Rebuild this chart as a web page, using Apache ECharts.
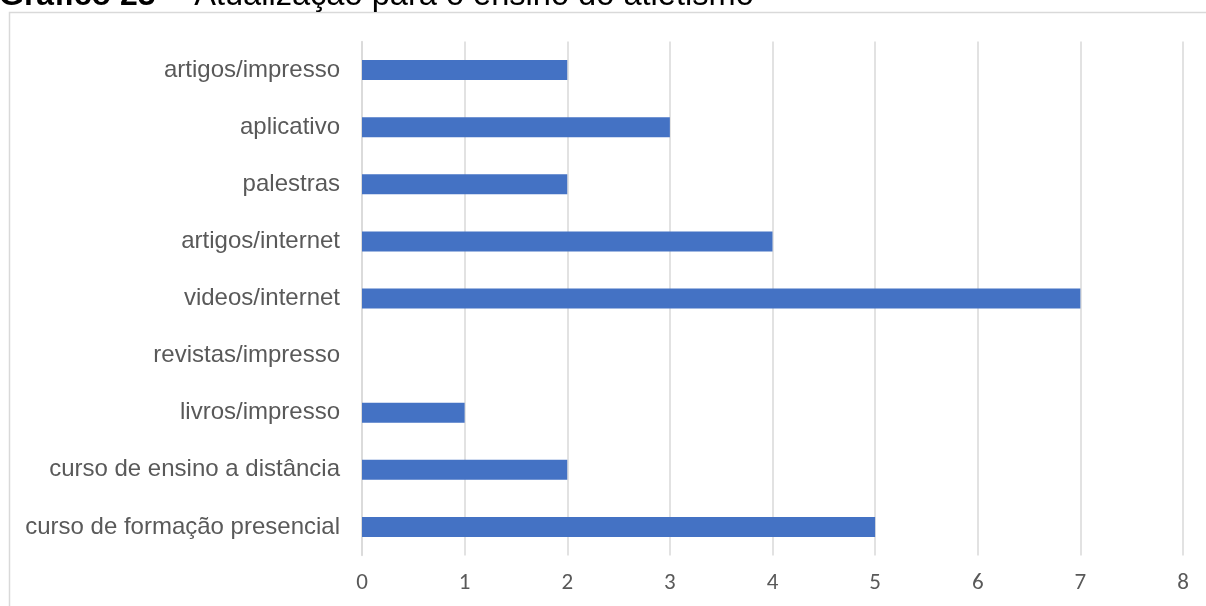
<!DOCTYPE html>
<html>
<head>
<meta charset="utf-8">
<script src="https://cdn.jsdelivr.net/npm/echarts@6/dist/echarts.min.js"></script>
<style>
  html, body { margin: 0; padding: 0; background: #ffffff; }
  #chart { width: 1206px; height: 606px; }
</style>
</head>
<body>
<div id="chart"></div>
<script>
// Categories listed bottom to top (ECharts category y axis starts at the bottom)
const categories = [
  'curso de formação presencial',
  'curso de ensino a distância',
  'livros/impresso',
  'revistas/impresso',
  'videos/internet',
  'artigos/internet',
  'palestras',
  'aplicativo',
  'artigos/impresso'
];
const counts = [5, 2, 1, 0, 7, 4, 2, 3, 2];
const xTicks = [0, 1, 2, 3, 4, 5, 6, 7, 8];

const titleBold = 'Gráfico 23';
const titleRest = '– Atualização para o ensino do atletismo';

const chart = echarts.init(document.getElementById('chart'), null, { renderer: 'canvas' });

chart.setOption({
  backgroundColor: '#ffffff',
  animation: false,
  grid: { left: 362, right: 23, top: 41.5, bottom: 50.5, containLabel: false },
  xAxis: {
    type: 'value',
    min: xTicks[0],
    max: xTicks[xTicks.length - 1],
    interval: 1,
    axisLine: { show: false },
    axisTick: { show: false },
    splitLine: { show: true, lineStyle: { color: '#d9d9d9', width: 1.5 } },
    axisLabel: {
      margin: 16,
      color: '#595959',
      fontSize: 23,
      fontFamily: 'Carlito, "Liberation Sans Narrow", "DejaVu Sans Condensed", sans-serif'
    }
  },
  yAxis: {
    type: 'category',
    data: categories,
    axisLine: { show: true, lineStyle: { color: '#d9d9d9', width: 1.5 } },
    axisTick: { show: false },
    splitLine: { show: false },
    axisLabel: {
      margin: 22,
      color: '#595959',
      fontSize: 24,
      fontFamily: '"Liberation Sans", Arial, sans-serif'
    }
  },
  series: [{
    type: 'bar',
    data: counts,
    barWidth: 20,
    itemStyle: { color: '#4472C4' }
  }],
  graphic: [
    {
      type: 'rect',
      silent: true,
      shape: { x: 9.5, y: 12.5, width: 1400, height: 800 },
      style: { fill: 'none', stroke: '#d9d9d9', lineWidth: 1.5 }
    },
    {
      type: 'text',
      left: -1,
      top: -20,
      silent: true,
      style: {
        text: titleBold,
        fill: '#000000',
        font: 'bold 32px "Liberation Sans", Arial, sans-serif'
      }
    },
    {
      type: 'text',
      left: 167,
      top: -20,
      silent: true,
      style: {
        text: titleRest,
        fill: '#000000',
        font: '32.6px "Liberation Sans", Arial, sans-serif'
      }
    }
  ]
});
</script>
</body>
</html>
